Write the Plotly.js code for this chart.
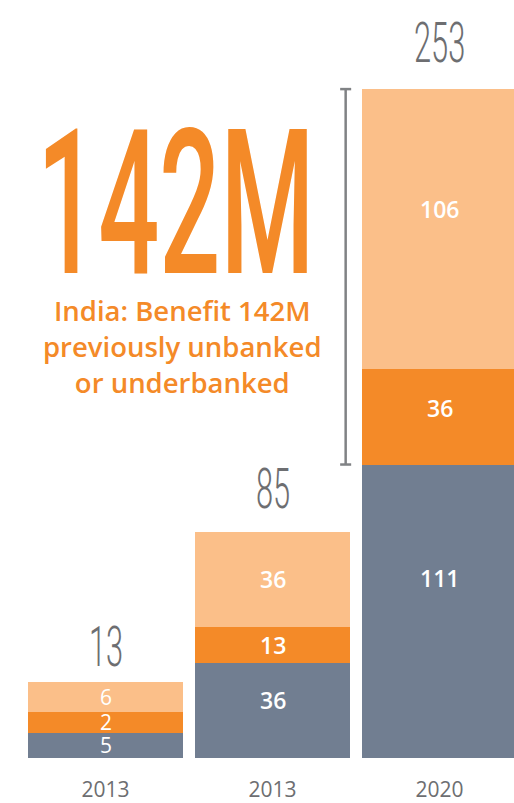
<!DOCTYPE html>
<html>
<head>
<meta charset="utf-8">
<script src="https://cdn.plot.ly/plotly-3.0.1.min.js"></script>
<style>
  html, body { margin: 0; padding: 0; background: #ffffff; }
  #chart { width: 514px; height: 803px; }
</style>
</head>
<body>
<div id="chart"></div>
<script>
// ---- data ----
const positions   = [0, 1, 2];
const tickLabels  = ['2013', '2013', '2020'];
// values printed on the segments
const valGray     = [5, 36, 111];
const valOrange   = [2, 13, 36];
const valLight    = [6, 36, 106];
const totals      = [13, 85, 253];
// drawn segment heights (first bar is drawn larger than its values in the original)
const hGray       = [9.5, 36, 111];
const hOrange     = [8, 13.6, 36];
const hLight      = [11.3, 36, 106];
const headline    = '142M';
const headlineSub = 'India: Benefit 142M<br>previously unbanked<br>or underbanked';

// ---- styles ----
const cGray = '#717e91', cOrange = '#f48a28', cLight = '#fbbf89';
const cText = '#6d6e71';

const traces = [
  { type: 'bar', x: positions, y: hGray,   marker: { color: cGray },   hoverinfo: 'skip' },
  { type: 'bar', x: positions, y: hOrange, marker: { color: cOrange }, hoverinfo: 'skip' },
  { type: 'bar', x: positions, y: hLight,  marker: { color: cLight },  hoverinfo: 'skip' }
];

const annotations = [];
// segment labels
const segLabelShift = [[0, 10, 33], [0, 0, 9], [0, 0, 20]];
const segs = [[hGray, valGray], [hOrange, valOrange], [hLight, valLight]];
positions.forEach(function (xi, i) {
  let base = 0;
  segs.forEach(function (s, k) {
    const h = s[0][i];
    const a = {
      x: xi, y: base + h / 2, xref: 'x', yref: 'y',
      text: String(s[1][i]), showarrow: false,
      xanchor: 'center', yanchor: 'middle',
      yshift: segLabelShift[k][i],
      font: { family: 'Open Sans', size: i === 0 ? 21 : 23, weight: i === 0 ? 400 : 600, color: '#ffffff' }
    };
    if (i === 0) { a.height = 18; a.borderpad = 0; }
    annotations.push(a);
    base += h;
  });
});
// totals above bars
const squeezeIdx = [];
const totalShift = [0, 8, 11];
positions.forEach(function (xi, i) {
  squeezeIdx.push([annotations.length, 0.55]);
  annotations.push({
    x: xi, y: hGray[i] + hOrange[i] + hLight[i], xref: 'x', yref: 'y',
    text: String(totals[i]), showarrow: false,
    xanchor: 'center', yanchor: 'bottom', yshift: totalShift[i],
    font: { family: 'Roboto', size: 56, weight: 300, color: cText }
  });
});
// headline
squeezeIdx.push([annotations.length, 0.53]);
annotations.push({
  x: 0.313, y: 0.731, xref: 'paper', yref: 'paper',
  text: headline, showarrow: false, xanchor: 'center', yanchor: 'middle',
  height: 160, borderpad: 0,
  font: { family: 'Roboto', size: 203, weight: 500, color: cOrange }
});
annotations.push({
  x: 0.326, y: 0.543, xref: 'paper', yref: 'paper',
  text: headlineSub, showarrow: false, xanchor: 'center', yanchor: 'middle', align: 'center',
  font: { family: 'Open Sans', size: 27.5, weight: 600, color: cOrange }
});

// bracket spanning the increase (gray top to stack top on last bar)
const topLast = hGray[2] + hOrange[2] + hLight[2];
const bx = 1.438, bw = 0.033;
const bracket = { color: '#808285', width: 2.5 };
const shapes = [
  { type: 'line', xref: 'x', yref: 'y', x0: bx, x1: bx, y0: hGray[2], y1: topLast, line: bracket },
  { type: 'line', xref: 'x', yref: 'y', x0: bx - bw, x1: bx + bw, y0: topLast, y1: topLast, line: bracket },
  { type: 'line', xref: 'x', yref: 'y', x0: bx - bw, x1: bx + bw, y0: hGray[2], y1: hGray[2], line: bracket }
];

const layout = {
  width: 514, height: 803,
  margin: { l: 22, r: 0, t: 0, b: 45, pad: 0 },
  paper_bgcolor: '#ffffff', plot_bgcolor: '#ffffff',
  barmode: 'stack', bargap: 0.072,
  showlegend: false, hovermode: false,
  xaxis: {
    range: [-0.5, 2.446], tickvals: positions, ticktext: tickLabels,
    showgrid: false, zeroline: false, showline: false, ticks: '',
    ticklabelstandoff: 17,
    tickfont: { family: 'Open Sans', size: 21, color: cText }, fixedrange: true
  },
  yaxis: { range: [0, 286.7], visible: false, fixedrange: true },
  annotations: annotations,
  shapes: shapes
};

function squeezeAt(idx, sx) {
  const g = document.querySelector('g.annotation[data-index="' + idx + '"]');
  if (!g) return;
  g.querySelectorAll('.annotation-text').forEach(function (t) {
    t.style.transformBox = 'fill-box';
    t.style.transformOrigin = 'center';
    t.style.transform = 'scaleX(' + sx + ')';
  });
}

Plotly.newPlot('chart', traces, layout, { displayModeBar: false, staticPlot: true }).then(function () {
  squeezeIdx.forEach(function (p) { squeezeAt(p[0], p[1]); });
});
</script>
</body>
</html>
